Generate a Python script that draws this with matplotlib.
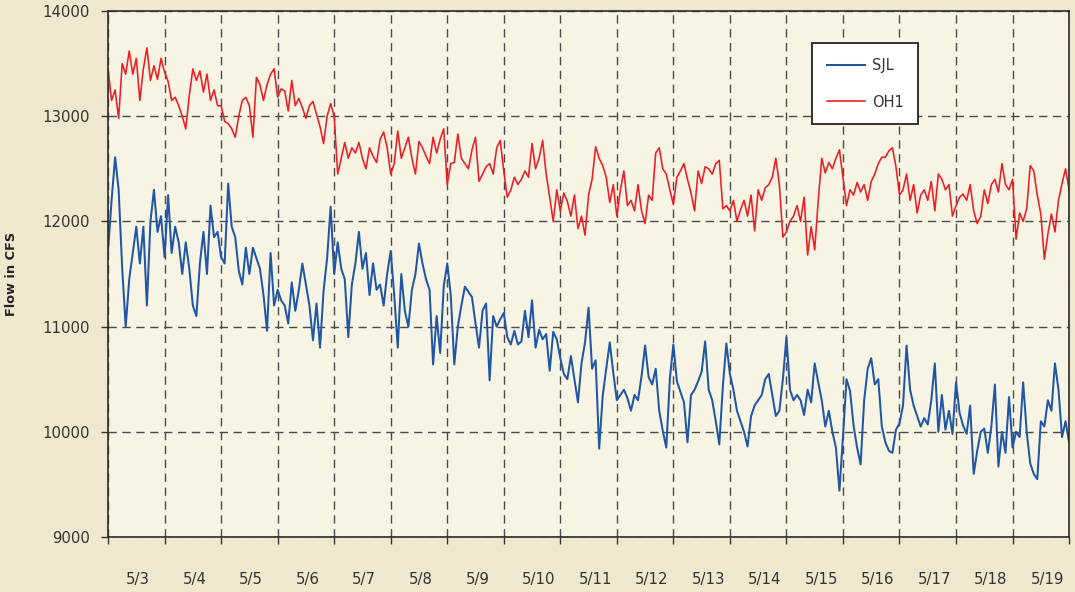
import numpy as np
import matplotlib
matplotlib.use("Agg")
import matplotlib.pyplot as plt

# 16 readings per day (every 1.5 h), 5/3 00:00 through 5/20 00:00
sjl = [
    11720, 12200, 12610, 12300, 11560, 11000, 11450, 11700, 11950, 11600, 11950, 11200, 12000, 12300, 11900, 12050,
    11660, 12250, 11700, 11950, 11800, 11500, 11800, 11550, 11200, 11100, 11600, 11900, 11500, 12150, 11850, 11900,
    11660, 11600, 12360, 11950, 11850, 11530, 11400, 11750, 11500, 11750, 11650, 11550, 11300, 10960, 11700, 11200,
    11350, 11250, 11200, 11030, 11420, 11150, 11350, 11600, 11400, 11200, 10870, 11220, 10800, 11340, 11650, 12140,
    11500, 11800, 11550, 11450, 10900, 11400, 11600, 11900, 11550, 11700, 11300, 11600, 11350, 11400, 11200, 11500,
    11720, 11300, 10800, 11500, 11150, 11000, 11350, 11500, 11790, 11600, 11450, 11350, 10640, 11100, 10750, 11380,
    11600, 11300, 10640, 11000, 11200, 11380, 11330, 11280, 11030, 10800, 11150, 11220, 10490, 11100, 11000, 11070,
    11130, 10900, 10830, 10960, 10830, 10860, 11150, 10900, 11250, 10800, 10970, 10880, 10930, 10580, 10950, 10880,
    10700, 10550, 10500, 10720, 10500, 10280, 10650, 10850, 11180, 10600, 10680, 9840, 10340, 10600, 10850, 10560,
    10300, 10350, 10400, 10320, 10200, 10350, 10300, 10530, 10820, 10520, 10450, 10600, 10200, 10010, 9850, 10500,
    10830, 10480, 10380, 10280, 9900, 10350, 10400, 10480, 10570, 10860, 10400, 10300, 10100, 9880, 10430, 10840,
    10550, 10400, 10200, 10100, 10000, 9860, 10150, 10250, 10300, 10350, 10500, 10550, 10350, 10150, 10200, 10500,
    10900, 10400, 10300, 10350, 10300, 10160, 10400, 10280, 10650, 10470, 10300, 10050, 10200, 10000, 9850, 9440,
    9950, 10500, 10390, 10060, 9850, 9690, 10300, 10600, 10700, 10450, 10500, 10050, 9900, 9820, 9800, 10020,
    10080, 10250, 10820, 10400, 10250, 10150, 10050, 10130, 10070, 10300, 10650, 10000, 10350, 10020, 10200, 9980,
    10470, 10180, 10060, 9980, 10250, 9600, 9820, 10000, 10030, 9800, 10050, 10450, 9670, 10000, 9800, 10330,
    9850, 10000, 9950, 10470, 10000, 9700, 9600, 9550, 10100, 10050, 10300, 10200, 10650, 10400, 9950, 10100,
    9900,
]

oh1 = [
    13450, 13150, 13250, 12980, 13500, 13400, 13620, 13400, 13550, 13150, 13450, 13650, 13340, 13480, 13350, 13550,
    13420, 13330, 13150, 13180, 13100, 13000, 12880, 13200, 13450, 13340, 13430, 13230, 13400, 13150, 13250, 13100,
    13100, 12950, 12930, 12880, 12800, 13000, 13150, 13180, 13100, 12800, 13370, 13300, 13150, 13300, 13400, 13450,
    13180, 13260, 13240, 13050, 13340, 13100, 13170, 13080, 12980, 13100, 13140, 13020, 12900, 12740, 13000, 13120,
    13000, 12450, 12600, 12750, 12600, 12700, 12650, 12750, 12600, 12500, 12700, 12620, 12560, 12780, 12850, 12700,
    12450, 12550, 12860, 12600, 12700, 12800, 12600, 12450, 12760, 12700, 12620, 12550, 12800, 12650, 12780, 12880,
    12350, 12550, 12560, 12830, 12600, 12550, 12500, 12680, 12800, 12380, 12450, 12520, 12550, 12450, 12700, 12770,
    12480, 12230, 12300, 12420, 12350, 12400, 12480, 12420, 12740, 12500, 12600, 12770, 12450, 12230, 12000, 12300,
    12100, 12270, 12190, 12050, 12250, 11930, 12050, 11870, 12250, 12400, 12710, 12600, 12530, 12420, 12180, 12350,
    12050, 12300, 12480, 12150, 12200, 12100, 12350, 12100, 11980, 12250, 12200, 12650, 12700, 12500, 12450, 12300,
    12160, 12420, 12480, 12550, 12400, 12270, 12100, 12480, 12360, 12520, 12500, 12450, 12550, 12580, 12120, 12150,
    12100, 12200, 12000, 12110, 12200, 12050, 12250, 11910, 12300, 12200, 12320, 12350, 12420, 12600, 12350, 11850,
    11900, 12000, 12050, 12150, 12000, 12230, 11680, 11950, 11730, 12200, 12600, 12460, 12560, 12500, 12600, 12680,
    12420, 12150, 12300, 12250, 12370, 12280, 12350, 12200, 12380, 12450, 12550, 12610, 12610, 12670, 12700, 12520,
    12250, 12300, 12450, 12200, 12350, 12080, 12250, 12300, 12200, 12380, 12100, 12450, 12400, 12300, 12350, 12050,
    12150, 12230, 12260, 12200, 12350, 12100, 11980, 12050, 12300, 12170, 12350, 12400, 12280, 12550, 12350, 12300,
    12400, 11830, 12080, 12000, 12120, 12530, 12480, 12250, 12070, 11640, 11880, 12070, 11900, 12200, 12360, 12500,
    12300,
]

day_labels = ["5/3", "5/4", "5/5", "5/6", "5/7", "5/8", "5/9", "5/10", "5/11",
              "5/12", "5/13", "5/14", "5/15", "5/16", "5/17", "5/18", "5/19"]
y_ticks = [9000, 10000, 11000, 12000, 13000, 14000]
readings_per_day = 16

t = np.arange(len(sjl)) / readings_per_day

plt.rcParams["font.family"] = ["DejaVu Sans"]

fig = plt.figure(figsize=(10.75, 5.92), dpi=100, facecolor="#EFE8CF")
ax = fig.add_axes([0.1005, 0.0929, 0.894, 0.8885])
ax.set_facecolor("#F7F4E3")

ax.plot(t, sjl, color="#1F56A6", lw=1.45, label="SJL")
ax.plot(t, oh1, color="#EE1C25", lw=1.15, label="OH1")

ax.set_xlim(0, len(day_labels))
ax.set_ylim(y_ticks[0], y_ticks[-1])

ax.set_yticks(y_ticks)
ax.set_xticks(np.arange(len(day_labels) + 1))
ax.set_xticklabels([])
ax.set_xticks(np.arange(len(day_labels)) + 0.32, minor=True)
ax.set_xticklabels(day_labels, minor=True)
for lbl in ax.get_xticklabels(minor=True):
    lbl.set_horizontalalignment("left")

ax.tick_params(axis="y", which="major", direction="out", length=5, width=1.0,
               color="#333333", labelsize=10.7, labelcolor="#333333", pad=8)
ax.tick_params(axis="x", which="major", direction="out", length=5, width=1.0,
               color="#333333")
ax.tick_params(axis="x", which="minor", length=0, pad=25, labelsize=10.7,
               labelcolor="#333333")

ax.grid(True, which="major", color="#4a4a4a", lw=1.0, linestyle=(0, (6, 4)))
ax.set_axisbelow(True)

for sp in ax.spines.values():
    sp.set_color("#2b2b2b")
    sp.set_linewidth(1.2)

ax.set_ylabel("Flow in CFS", fontsize=9.3, fontweight="bold", color="#222222")
ax.yaxis.set_label_coords(-0.094, 0.5)

leg = ax.legend(loc="upper left", bbox_to_anchor=(0.7326, 0.939), borderaxespad=0,
                fontsize=10.5, frameon=True, fancybox=False, framealpha=1,
                edgecolor="#222222", facecolor="white", borderpad=1.0,
                labelspacing=1.5, handlelength=2.6, handletextpad=0.5)
leg.get_frame().set_linewidth(1.3)
for txt in leg.get_texts():
    txt.set_color("#333333")

fig.savefig("out.png", dpi=100, facecolor=fig.get_facecolor())
